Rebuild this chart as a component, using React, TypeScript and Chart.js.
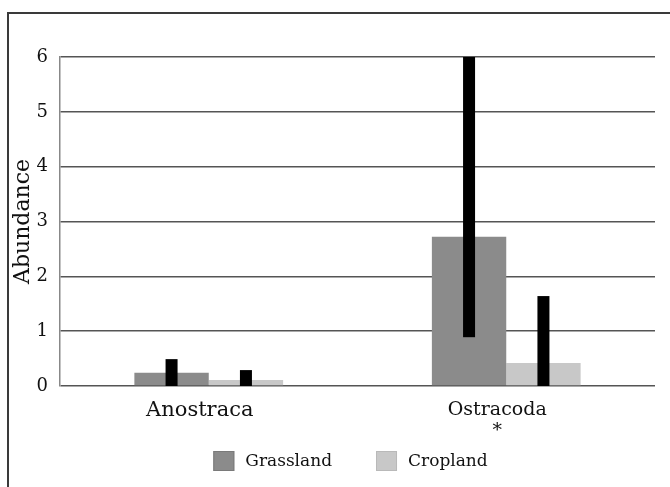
import React, { useEffect, useRef } from "react";
import { Chart, registerables } from "chart.js";

Chart.register(...registerables);

const categories: string[][] = [["Anostraca"], ["Ostracoda", "*"]];
const seriesNames = ["Grassland", "Cropland"];
const grassland = [0.24, 2.72];
const cropland = [0.11, 0.42];
const grasslandErrLow = [0, 0.89];
const grasslandErrHigh = [0.49, 6.0];
const croplandErrLow = [0, 0];
const croplandErrHigh = [0.29, 1.64];
const yTickValues = [0, 1, 2, 3, 4, 5, 6];
const yAxisTitle = "Abundance";

const seriesColors = ["#8b8b8b", "#c8c8c8"];
const seriesBorders = ["#7a7a7a", "#b9b9b9"];

const errorBarPlugin = {
  id: "errorBars",
  afterDatasetsDraw(chart: any) {
    const ctx = chart.ctx;
    const ys = chart.scales.y;
    const lows = [grasslandErrLow, croplandErrLow];
    const highs = [grasslandErrHigh, croplandErrHigh];
    ctx.save();
    ctx.fillStyle = "#000";
    chart.data.datasets.forEach((_: any, i: number) => {
      const meta = chart.getDatasetMeta(i);
      meta.data.forEach((el: any, j: number) => {
        const yl = ys.getPixelForValue(lows[i][j]);
        const yh = ys.getPixelForValue(highs[i][j]);
        ctx.fillRect(el.x - 6, yh, 12, yl - yh);
      });
    });
    ctx.restore();
  },
};

const legendPlugin = {
  id: "customLegend",
  afterDraw(chart: any) {
    const ctx = chart.ctx;
    const font = "17px 'DejaVu Serif'";
    ctx.save();
    ctx.font = font;
    const boxW = 21;
    const boxH = 20;
    const textGap = 11;
    const itemGap = 44;
    const widths = seriesNames.map((n) => ctx.measureText(n).width);
    let total = 0;
    widths.forEach((w, i) => {
      total += boxW + textGap + w + (i < widths.length - 1 ? itemGap : 0);
    });
    const ca = chart.chartArea;
    let x = (ca.left + ca.right) / 2 - 7 - total / 2;
    const top = 437;
    seriesNames.forEach((name, i) => {
      ctx.fillStyle = seriesColors[i];
      ctx.fillRect(x, top, boxW, boxH);
      ctx.strokeStyle = seriesBorders[i];
      ctx.lineWidth = 1;
      ctx.strokeRect(x + 0.5, top + 0.5, boxW - 1, boxH - 1);
      ctx.fillStyle = "#111";
      ctx.textBaseline = "middle";
      ctx.textAlign = "left";
      ctx.fillText(name, x + boxW + textGap, top + boxH / 2 + 1);
      x += boxW + textGap + widths[i] + itemGap;
    });
    ctx.restore();
  },
};

export default function App() {
  const canvasRef = useRef<HTMLCanvasElement | null>(null);

  useEffect(() => {
    if (!canvasRef.current) return;
    const chart = new Chart(canvasRef.current, {
      type: "bar",
      data: {
        labels: categories as any,
        datasets: [
          {
            label: seriesNames[0],
            data: grassland,
            backgroundColor: seriesColors[0],
            borderWidth: 0,
          },
          {
            label: seriesNames[1],
            data: cropland,
            backgroundColor: seriesColors[1],
            borderWidth: 0,
          },
        ],
      },
      options: {
        animation: false,
        responsive: false,
        maintainAspectRatio: false,
        layout: { padding: { top: 43, right: 15, left: 0, bottom: 46 } },
        plugins: {
          legend: { display: false },
          tooltip: { enabled: false },
        },
        datasets: {
          bar: { categoryPercentage: 0.5, barPercentage: 1.0 },
        },
        scales: {
          x: {
            grid: { display: false },
            border: { display: false },
            ticks: {
              color: "#111",
              padding: 6,
              labelOffset: -9,
              maxRotation: 0,
              font: (c: any) =>
                c.index === 0
                  ? { family: "'DejaVu Serif'", size: 21, lineHeight: 1.0 }
                  : { family: "'DejaVu Serif'", size: 19, lineHeight: 1.1 },
            },
            afterFit: (s: any) => {
              s.height = 55;
            },
          },
          y: {
            min: 0,
            max: 6,
            afterBuildTicks: (s: any) => {
              s.ticks = yTickValues.map((v) => ({ value: v }));
            },
            grid: {
              color: "#555",
              lineWidth: 1.5,
              drawTicks: false,
            },
            border: { display: true, color: "#888", width: 1.5 },
            ticks: {
              color: "#111",
              padding: 12,
              font: { family: "'DejaVu Serif'", size: 18 },
            },
            title: {
              display: true,
              text: yAxisTitle,
              color: "#111",
              padding: { top: 1, bottom: 0 },
              font: { family: "'DejaVu Serif'", size: 22 },
            },
            afterFit: (s: any) => {
              s.width = 51;
            },
          },
        },
      },
      plugins: [errorBarPlugin, legendPlugin],
    });
    return () => chart.destroy();
  }, []);

  return (
    <div
      style={{
        position: "fixed",
        left: 7,
        top: 12,
        width: 663,
        height: 475,
        borderTop: "2px solid #3a3a3a",
        borderLeft: "2px solid #3a3a3a",
        boxSizing: "border-box",
        background: "#fff",
      }}
    >
      <canvas ref={canvasRef} width={661} height={473} style={{ display: "block" }} />
    </div>
  );
}
